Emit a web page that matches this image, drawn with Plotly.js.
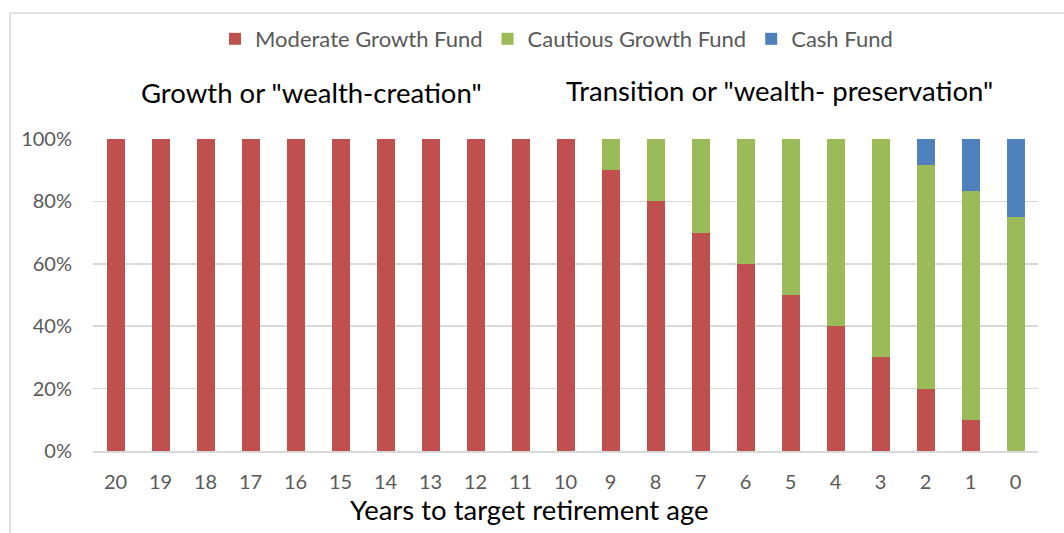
<!DOCTYPE html>
<html>
<head>
<meta charset="utf-8">
<script src="https://cdn.plot.ly/plotly-3.0.1.min.js"></script>
<style>html,body{margin:0;padding:0;background:#fff;}#chart{width:1064px;height:533px;}</style>
</head>
<body>
<div id="chart"></div>
<script>
const years = ["20","19","18","17","16","15","14","13","12","11","10","9","8","7","6","5","4","3","2","1","0"];
const moderate = [100,100,100,100,100,100,100,100,100,100,100,90,80,70,60,50,40,30,20,10,0];
const cautious = [0,0,0,0,0,0,0,0,0,0,0,10,20,30,40,50,60,70,71.67,73.33,75];
const cash = [0,0,0,0,0,0,0,0,0,0,0,0,0,0,0,0,0,0,8.33,16.67,25];
const seriesNames = ["Moderate Growth Fund","Cautious Growth Fund","Cash Fund"];
const yTicks = [0,20,40,60,80,100];
const yTickText = ["0%","20%","40%","60%","80%","100%"];
const annoLeft = 'Growth or "wealth-creation"';
const annoRight = 'Transition or "wealth- preservation"';
const xTitle = "Years to target retirement age";

const FONT = "Lato, 'Open Sans', sans-serif";
const colors = ["#C0504D","#9BBB59","#4F81BD"];
const data = [moderate, cautious, cash].map((vals, i) => ({
  type: "bar", x: years, y: vals, name: seriesNames[i],
  marker: {color: colors[i], line: {width: 0}}, hoverinfo: "none"
}));

const layout = {
  width: 1064, height: 533,
  margin: {l: 93, r: 26, t: 139, b: 82},
  barmode: "stack", bargap: 0.6,
  paper_bgcolor: "#fff", plot_bgcolor: "#fff",
  font: {family: FONT, color: "#595959", size: 20},
  showlegend: true,
  legend: {orientation: "h", x: 0.4905, xanchor: "center", y: 1.3205, yanchor: "middle",
           font: {size: 22, color: "#595959"}, traceorder: "normal", itemwidth: 30},
  xaxis: {type: "category", showgrid: false, showline: true, linecolor: "#D9D9D9", linewidth: 1.5,
          ticks: "", tickfont: {size: 20, color: "#595959"}, ticklabelstandoff: 12, fixedrange: true},
  yaxis: {range: [0, 100], tickvals: yTicks, ticktext: yTickText, showgrid: true,
          gridcolor: "#D9D9D9", gridwidth: 1.5, zeroline: false, showline: false, ticks: "",
          tickfont: {size: 20, color: "#595959"}, ticklabelstandoff: 20, fixedrange: true},
  annotations: [
    {text: annoLeft, xref: "paper", yref: "paper", x: 0.2307, y: 1.1506, xanchor: "center", yanchor: "middle",
     showarrow: false, font: {size: 27.5, color: "#000"}},
    {text: annoRight, xref: "paper", yref: "paper", x: 0.7265, y: 1.157, xanchor: "center", yanchor: "middle",
     showarrow: false, font: {size: 27.5, color: "#000"}},
    {text: xTitle, xref: "paper", yref: "paper", x: 0.4624, y: -0.189, xanchor: "center", yanchor: "middle",
     showarrow: false, font: {size: 27.5, color: "#000"}}
  ],
  shapes: [
    {type: "rect", xref: "paper", yref: "paper", x0: -0.0878, x1: 1.2, y0: -0.5, y1: 1.404,
     line: {color: "#D9D9D9", width: 1.5}, fillcolor: "rgba(0,0,0,0)", layer: "below"}
  ]
};

Plotly.newPlot("chart", data, layout, {staticPlot: true, displayModeBar: false});
</script>
</body>
</html>
